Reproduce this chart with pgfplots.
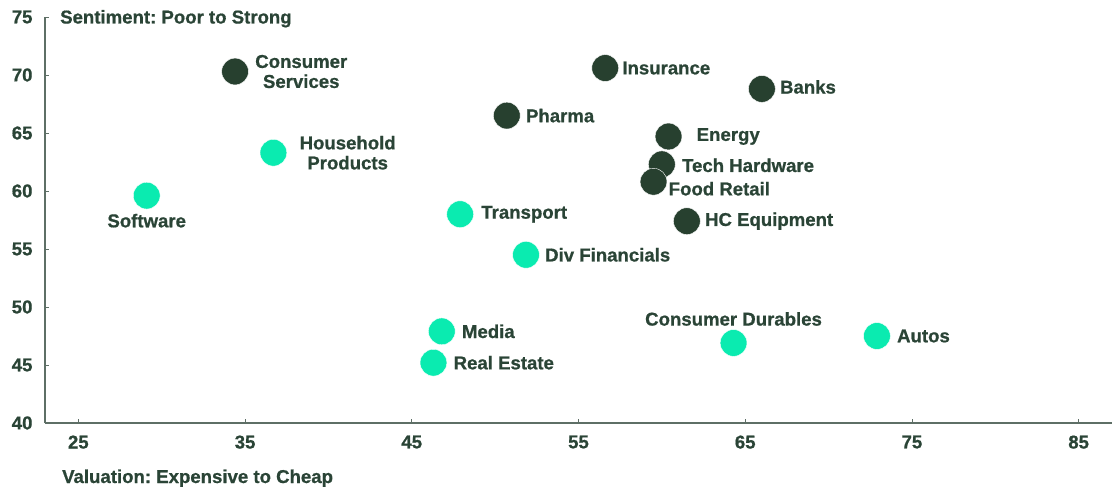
\documentclass[border=0pt]{standalone}
\usepackage{fontspec}
\setmainfont{Liberation Sans}[BoldFeatures={FakeBold=0.8}]
\usepackage{pgfplots}
\pgfplotsset{compat=1.18}
\definecolor{dk}{HTML}{27402F}
\definecolor{mint}{HTML}{0AEBB0}
\definecolor{txt}{HTML}{2A4436}
\definecolor{axc}{HTML}{5E6F66}
\frenchspacing
\begin{document}
\begin{tikzpicture}[font=\fontsize{18.6bp}{20bp}\selectfont\bfseries, text=txt,
  lab/.style={anchor=west, inner sep=0pt, align=center}]
\path[use as bounding box] (0,0) rectangle (1118bp,492bp);
\begin{axis}[at={(45bp,69bp)}, anchor=south west, scale only axis,
  width=1067bp, height=406bp,
  xmin=23, xmax=87, ymin=40, ymax=75,
  xtick={25,35,...,85}, ytick={40,45,...,75},
  axis x line=bottom, axis y line=left,
  axis line style={axc, line width=1.2pt, -},
  tick style={axc, line width=0.8pt}, tick align=inside, major tick length=4bp,
  /pgf/number format/assume math mode=true,
  tick label style={text=txt},
  xticklabel style={yshift=-9bp},
  yticklabel style={xshift=-9bp},
  clip=false]
\addplot[only marks, mark=*, mark size=13.4bp, mark options={fill=dk, draw=white, line width=0.4pt}] table {
x y
34.4 70.3
50.7 66.5
56.6 70.6
66.0 68.8
60.4 64.7
60.0 62.3
59.5 60.8
61.5 57.4
};
\addplot[only marks, mark=*, mark size=13.4bp, mark options={fill=mint, draw=white, line width=0.4pt}] table {
x y
36.7 63.3
29.1 59.6
47.9 58.0
51.85 54.5
46.8 47.9
46.3 45.2
64.3 46.9
72.9 47.5
};
\node[lab, xshift=20bp] at (axis cs:34.4,70.3) {Consumer\\Services};
\node[lab, xshift=26bp] at (axis cs:36.7,63.3) {Household\\Products};
\node[inner sep=0pt, anchor=north, yshift=-18bp] at (axis cs:29.1,59.6) {Software};
\node[lab, xshift=19bp] at (axis cs:50.7,66.5) {Pharma};
\node[lab, xshift=17bp] at (axis cs:56.6,70.6) {Insurance};
\node[lab, xshift=18bp, yshift=2bp] at (axis cs:66.0,68.8) {Banks};
\node[lab, xshift=28bp] at (axis cs:60.4,64.7) {Energy};
\node[lab, xshift=20bp, yshift=-1bp] at (axis cs:60.0,62.3) {Tech Hardware};
\node[lab, xshift=15bp, yshift=-7bp] at (axis cs:59.5,60.8) {Food Retail};
\node[lab, xshift=18bp] at (axis cs:61.5,57.4) {HC Equipment};
\node[lab, xshift=21bp] at (axis cs:47.9,58.0) {Transport};
\node[lab, xshift=19bp] at (axis cs:51.85,54.5) {Div Financials};
\node[lab, xshift=20bp] at (axis cs:46.8,47.9) {Media};
\node[lab, xshift=20bp] at (axis cs:46.3,45.2) {Real Estate};
\node[inner sep=0pt, anchor=south, yshift=17bp] at (axis cs:64.3,46.9) {Consumer Durables};
\node[lab, xshift=20bp] at (axis cs:72.9,47.5) {Autos};
\node[anchor=base west, inner sep=0pt, xshift=15bp, yshift=-6.5bp] at (axis cs:23,75) {Sentiment: Poor to Strong};
\node[anchor=base west, inner sep=0pt, xshift=17bp, yshift=-60bp] at (axis cs:23,40) {Valuation: Expensive to Cheap};
\end{axis}
\end{tikzpicture}
\end{document}
